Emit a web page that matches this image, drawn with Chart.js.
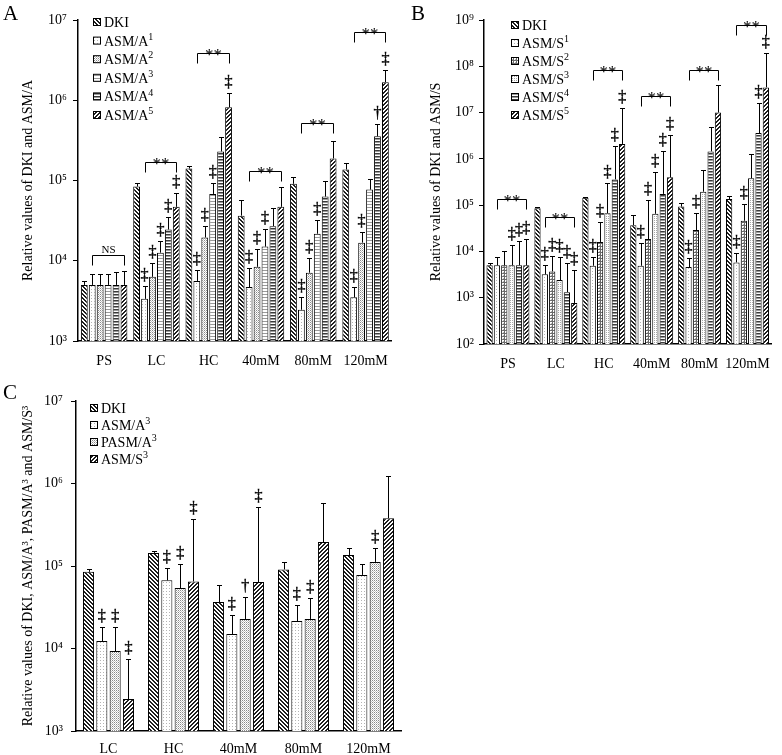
<!DOCTYPE html>
<html><head><meta charset="utf-8">
<script src="https://cdn.jsdelivr.net/npm/chart.js@4.4.0/dist/chart.umd.min.js"></script>
<style>
body{margin:0;background:#fff;width:782px;height:755px;position:relative;overflow:hidden;font-family:"Liberation Serif",serif;}
canvas{position:absolute;}
.lbl{position:absolute;font-size:21px;line-height:21px;font-family:"Liberation Serif",serif;color:#000;}
</style></head><body>
<canvas id="cA" width="400" height="375" style="left:0;top:0"></canvas>
<canvas id="cB" width="392" height="378" style="left:390px;top:0"></canvas>
<canvas id="cC" width="404" height="375" style="left:0;top:380px"></canvas>
<div class="lbl" style="left:3px;top:3px">A</div>
<div class="lbl" style="left:411px;top:3px">B</div>
<div class="lbl" style="left:3px;top:382px">C</div>
<script>
// ---------------- DATA ----------------
const categoriesAB = ['PS','LC','HC','40mM','80mM','120mM'];
const categoriesC = ['LC','HC','40mM','80mM','120mM'];

// Panel A
const namesA = ['DKI','ASM/A¹','ASM/A²','ASM/A³','ASM/A⁴','ASM/A⁵'];
const dkiA  = [5000, 84000, 141000, 36500, 91000, 137000];
const asmA1 = [5000, 3350, 5600, 4700, 2450, 3500];
const asmA2 = [5000, 6300, 19500, 8400, 7100, 16800];
const asmA3 = [5000, 12600, 68000, 15000, 21700, 77000];
const asmA4 = [5000, 24500, 230000, 27000, 63000, 355000];
const asmA5 = [5000, 47000, 820000, 47000, 188000, 1680000];
const errDkiA  = [5600, 92000, 150000, 57000, 112000, 165000];
const errAsmA1 = [6900, 4900, 7700, 8200, 3550, 4700];
const errAsmA2 = [6900, 9400, 27000, 14000, 10900, 22500];
const errAsmA3 = [6900, 17800, 94000, 25000, 32000, 105000];
const errAsmA4 = [7300, 35000, 345000, 45000, 100000, 500000];
const errAsmA5 = [7500, 69000, 1230000, 82000, 309000, 2370000];
const markDkiA  = ['','','','','',''];
const markAsmA1 = ['','‡','‡','‡','‡','‡'];
const markAsmA2 = ['','‡','‡','‡','‡','‡'];
const markAsmA3 = ['','‡','‡','‡','‡',''];
const markAsmA4 = ['','‡','','','','†'];
const markAsmA5 = ['','‡','‡','','','‡'];
const bracketsA = [
  {cat:0, from:1, to:5, level:11900, label:'NS'},
  {cat:1, from:1, to:5, level:168000, label:'**'},
  {cat:2, from:1, to:5, level:3870000, label:'**'},
  {cat:3, from:1, to:5, level:133000, label:'**'},
  {cat:4, from:1, to:5, level:516000, label:'**'},
  {cat:5, from:1, to:5, level:7080000, label:'**'}
];
const ticksA = [1e3,1e4,1e5,1e6,1e7];

// Panel B
const namesB = ['DKI','ASM/S¹','ASM/S²','ASM/S³','ASM/S⁴','ASM/S⁵'];
const dkiB  = [5000, 86000, 145000, 37000, 93000, 135000];
const asmS1 = [5000, 3200, 4900, 4900, 4600, 5800];
const asmS2 = [5000, 3700, 16000, 18500, 29000, 46000];
const asmS3 = [5000, 2400, 67000, 65000, 195000, 380000];
const asmS4 = [5000, 1320, 360000, 175000, 1450000, 3600000];
const asmS5 = [5000, 770, 2100000, 400000, 10000000, 35000000];
const errDkiB  = [5500, 93000, 152000, 60000, 110000, 160000];
const errAsmS1 = [7500, 5000, 7600, 15500, 7300, 9200];
const errAsmS2 = [10000, 8000, 43000, 126000, 66000, 105000];
const errAsmS3 = [13500, 7600, 300000, 520000, 580000, 1250000];
const errAsmS4 = [16500, 5500, 1900000, 1460000, 5000000, 16000000];
const errAsmS5 = [19000, 3900, 12500000, 3200000, 39000000, 190000000];
const markDkiB  = ['','','','','',''];
const markAsmS1 = ['','‡','‡','‡','‡','‡'];
const markAsmS2 = ['','‡','‡','‡','‡','‡'];
const markAsmS3 = ['‡','‡','‡','‡','',''];
const markAsmS4 = ['‡','‡','‡','‡','','‡'];
const markAsmS5 = ['‡','‡','‡','‡','','‡'];
const bracketsB = [
  {cat:0, from:1, to:5, level:135000, label:'**'},
  {cat:1, from:1, to:5, level:55300, label:'**'},
  {cat:2, from:1, to:5, level:83000000, label:'**'},
  {cat:3, from:1, to:5, level:22700000, label:'**'},
  {cat:4, from:1, to:5, level:83000000, label:'**'},
  {cat:5, from:1, to:5, level:776000000, label:'**'}
];
const ticksB = [1e2,1e3,1e4,1e5,1e6,1e7,1e8,1e9];

// Panel C
const namesC = ['DKI','ASM/A³','PASM/A³','ASM/S³'];
const dkiC   = [85000, 144000, 36500, 91000, 136000];
const asmA3C = [12300, 67000, 15000, 21500, 78000];
const pasmC  = [9300, 54000, 22800, 22800, 112000];
const asmS3C = [2440, 65000, 64000, 195000, 380000];
const errDkiC   = [92000, 152000, 59000, 112000, 165000];
const errAsmA3C = [18200, 95000, 25500, 33500, 105000];
const errPasmC  = [18200, 105000, 42000, 41000, 165000];
const errAsmS3C = [7460, 370000, 520000, 580000, 1230000];
const markDkiC   = ['','','','',''];
const markAsmA3C = ['‡','‡','‡','‡',''];
const markPasmC  = ['‡','‡','†','‡','‡'];
const markAsmS3C = ['‡','‡','‡','',''];
const ticksC = [1e3,1e4,1e5,1e6,1e7];

// ---------------- STYLE ----------------
const FONT = '"Liberation Serif", "Times New Roman", serif';
function tile(w,h,draw){
  const c=document.createElement('canvas'); c.width=w; c.height=h;
  const g=c.getContext('2d'); g.fillStyle='#fff'; g.fillRect(0,0,w,h); draw(g);
  return document.createElement('canvas').getContext('2d').createPattern(c,'repeat');
}
const PAT = {
  back: tile(4,4,g=>{g.fillStyle='#1e1e1e';for(let i=0;i<4;i++){g.fillRect(i,i,1,1);g.fillRect((i+1)%4,i,1,1);}}),
  fwd:  tile(4,4,g=>{g.fillStyle='#1e1e1e';for(let i=0;i<4;i++){g.fillRect(3-i,i,1,1);g.fillRect((4-i)%4,i,1,1);}}),
  dotL: tile(3,3,g=>{g.fillStyle='#b4b4b4';g.fillRect(1,1,1,1);}),
  dotM: tile(2,2,g=>{g.fillStyle='#8a8a8a';g.fillRect(0,0,1,1);g.fillStyle='#c4c4c4';g.fillRect(1,1,1,1);}),
  dotM2:tile(2,2,g=>{g.fillStyle='#a8a8a8';g.fillRect(0,0,1,1);}),
  hL:   tile(1,3,g=>{g.fillStyle='#9a9a9a';g.fillRect(0,0,1,1);}),
  hD:   tile(1,3,g=>{g.fillStyle='#3a3a3a';g.fillRect(0,0,1,1);g.fillStyle='#9a9a9a';g.fillRect(0,1,1,1);}),
  grid: tile(3,3,g=>{g.fillStyle='#6a6a6a';g.fillRect(0,0,3,1);g.fillRect(0,0,1,3);g.fillStyle='#b0b0b0';g.fillRect(2,2,1,1);})
};
const SUPS='⁰¹²³⁴⁵⁶⁷⁸⁹';
const supStr = n => String(n).split('').map(d=>SUPS[+d]).join('');

function drawRich(ctx, text, x, y, size){
  const runs=[]; let cur='', sup=false;
  for(const ch of text){
    const isS = SUPS.indexOf(ch)>=0;
    if(isS!==sup && cur){runs.push([cur,sup]);cur='';}
    sup=isS; cur += isS ? String(SUPS.indexOf(ch)) : ch;
  }
  if(cur) runs.push([cur,sup]);
  let cx=x;
  ctx.textAlign='left'; ctx.textBaseline='alphabetic';
  runs.forEach(([t,s])=>{
    const fs = s ? Math.round(size*0.72) : size;
    ctx.font = fs+'px '+FONT;
    ctx.fillText(t, cx, s ? y - size*0.42 : y);
    cx += ctx.measureText(t).width;
  });
}

const overlay = {
  id:'overlay',
  afterDatasetsDraw(chart, args, opts){
    const ctx=chart.ctx, ys=chart.scales.y;
    ctx.save();
    ctx.strokeStyle='#000'; ctx.fillStyle='#000'; ctx.lineWidth=1;
    chart.data.datasets.forEach((ds,i)=>{
      const meta=chart.getDatasetMeta(i);
      meta.data.forEach((bar,j)=>{
        const x=Math.round(bar.x)+0.5;
        const yt=Math.round(ys.getPixelForValue(ds.errTop[j]))+0.5;
        ctx.lineWidth=1;
        ctx.beginPath(); ctx.moveTo(x,bar.y); ctx.lineTo(x,yt);
        ctx.moveTo(x-2.5,yt); ctx.lineTo(x+2.5,yt); ctx.stroke();
        const m=ds.marks[j];
        if(m){
          ctx.font='16px '+FONT; ctx.textAlign='center'; ctx.textBaseline='alphabetic';
          ctx.fillText(m, bar.x, yt-7);
          ctx.lineWidth=0.4; ctx.strokeText(m, bar.x, yt-7);
        }
      });
    });
    ctx.lineWidth=1;
    (opts.brackets||[]).forEach(b=>{
      const b1=chart.getDatasetMeta(b.from).data[b.cat], b2=chart.getDatasetMeta(b.to).data[b.cat];
      const y=Math.round(ys.getPixelForValue(b.level))+0.5;
      const x1=Math.round(b1.x)+0.5, x2=Math.round(b2.x)+0.5;
      ctx.beginPath(); ctx.moveTo(x1,y+10); ctx.lineTo(x1,y); ctx.lineTo(x2,y); ctx.lineTo(x2,y+10); ctx.stroke();
      ctx.textAlign='center'; ctx.textBaseline='alphabetic';
      if(b.label==='NS'){ ctx.font='11px '+FONT; ctx.fillText(b.label,(x1+x2)/2,y-3); }
      else { ctx.font='17px '+FONT; ctx.fillText(b.label,(x1+x2)/2,y+6); }
    });
    const lg=opts.legend;
    if(lg){
      chart.data.datasets.forEach((ds,i)=>{
        const cy=lg.y+i*lg.dy;
        ctx.fillStyle=ds.backgroundColor;
        ctx.fillRect(lg.x, cy-4, 8, 8);
        ctx.strokeStyle='#000'; ctx.lineWidth=1;
        ctx.strokeRect(lg.x+0.5, cy-3.5, 7, 7);
        ctx.fillStyle='#000';
        drawRich(ctx, ds.label, lg.x+11, cy+5, 14);
      });
    }
    ctx.restore();
  }
};

function build(id, cfg){
  const datasets = cfg.series.map(s=>({
    label:s[0], data:s[1], errTop:s[2], marks:s[3], backgroundColor:s[4],
    borderColor:'#000', borderWidth:1,
    barPercentage:cfg.barPct, categoryPercentage:cfg.catPct
  }));
  return new Chart(document.getElementById(id), {
    type:'bar',
    data:{labels:cfg.labels, datasets},
    plugins:[overlay],
    options:{
      responsive:false, animation:false, devicePixelRatio:1,
      layout:{padding:{left:0,right:cfg.padR,top:cfg.padT,bottom:0}},
      plugins:{legend:{display:false}, tooltip:{enabled:false},
        overlay:{brackets:cfg.brackets, legend:cfg.legend}},
      scales:{
        x:{
          grid:{display:false, drawTicks:false},
          border:{display:true,color:'#000',width:1.5},
          ticks:{color:'#000', font:{family:FONT,size:14}, padding:cfg.xPad, maxRotation:0, minRotation:0, autoSkip:false},
          afterFit(s){ s.height=cfg.xH; }
        },
        y:{
          type:'logarithmic', min:cfg.ticks[0], max:cfg.ticks[cfg.ticks.length-1],
          grid:{display:true, drawOnChartArea:false, drawTicks:true, tickLength:5, color:'#000', lineWidth:1},
          border:{display:true,color:'#000',width:1.5},
          ticks:{color:'#000', font:{family:FONT,size:14}, padding:cfg.tickPad, autoSkip:false,
            callback:(v)=>'10'+supStr(Math.round(Math.log10(v)))},
          afterBuildTicks(s){ s.ticks = cfg.ticks.map(v=>({value:v})); },
          title:{display:true, text:cfg.title, color:'#000', font:{family:FONT,size:14}, padding:{top:cfg.titlePad,bottom:0}},
          afterFit(s){ s.width=cfg.yW; }
        }
      }
    }
  });
}

build('cA', {
  labels:categoriesAB, ticks:ticksA, yW:78, xH:34, xPad:12, padR:3, padT:20, titlePad:20, tickPad:6,
  barPct:0.86, catPct:0.91,
  title:'Relative values of DKI and ASM/A',
  series:[
    [namesA[0], dkiA, errDkiA, markDkiA, PAT.back],
    [namesA[1], asmA1, errAsmA1, markAsmA1, PAT.dotL],
    [namesA[2], asmA2, errAsmA2, markAsmA2, PAT.dotM],
    [namesA[3], asmA3, errAsmA3, markAsmA3, PAT.hL],
    [namesA[4], asmA4, errAsmA4, markAsmA4, PAT.hD],
    [namesA[5], asmA5, errAsmA5, markAsmA5, PAT.fwd]
  ],
  brackets:bracketsA,
  legend:{x:93, y:22, dy:18.6}
});

build('cB', {
  labels:categoriesAB, ticks:ticksB, yW:94, xH:34, xPad:12, padR:4, padT:20, titlePad:38, tickPad:5,
  barPct:0.85, catPct:0.92,
  title:'Relative values of DKI and ASM/S',
  series:[
    [namesB[0], dkiB, errDkiB, markDkiB, PAT.back],
    [namesB[1], asmS1, errAsmS1, markAsmS1, PAT.dotL],
    [namesB[2], asmS2, errAsmS2, markAsmS2, PAT.grid],
    [namesB[3], asmS3, errAsmS3, markAsmS3, PAT.dotM2],
    [namesB[4], asmS4, errAsmS4, markAsmS4, PAT.hD],
    [namesB[5], asmS5, errAsmS5, markAsmS5, PAT.fwd]
  ],
  brackets:bracketsB,
  legend:{x:121, y:25, dy:18}
});

build('cC', {
  labels:categoriesC, ticks:ticksC, yW:76, xH:24, xPad:10, padR:3, padT:21, titlePad:20, tickPad:8,
  barPct:0.83, catPct:0.82,
  title:'Relative values of DKI, ASM/A³, PASM/A³ and ASM/S³',
  series:[
    [namesC[0], dkiC, errDkiC, markDkiC, PAT.back],
    [namesC[1], asmA3C, errAsmA3C, markAsmA3C, PAT.dotL],
    [namesC[2], pasmC, errPasmC, markPasmC, PAT.dotM],
    [namesC[3], asmS3C, errAsmS3C, markAsmS3C, PAT.fwd]
  ],
  brackets:[],
  legend:{x:90, y:28, dy:17}
});
</script>
</body></html>
